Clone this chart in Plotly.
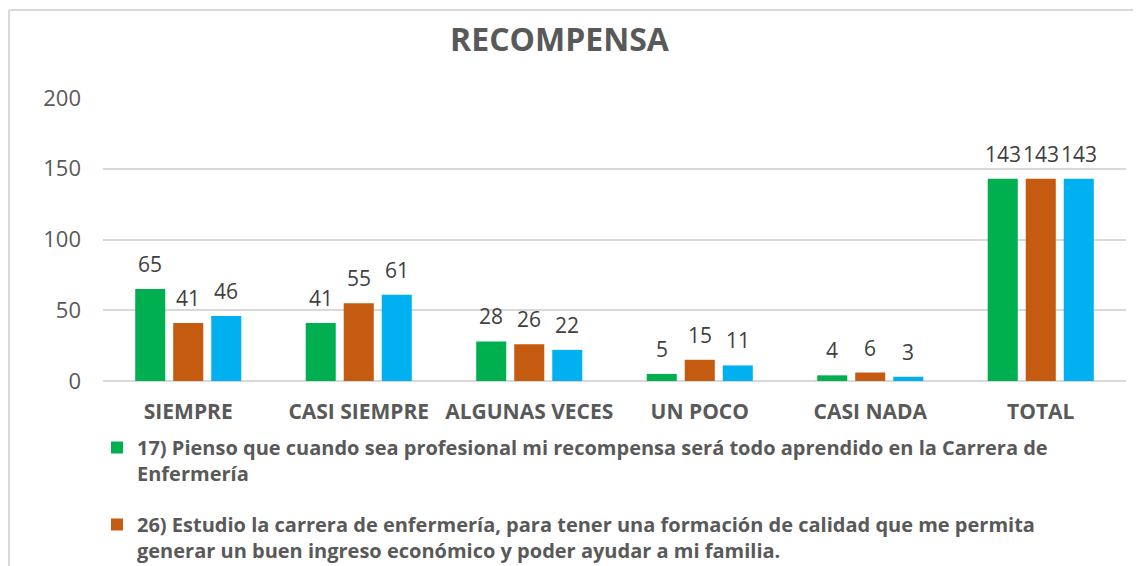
import plotly.graph_objects as go

categories = ["SIEMPRE", "CASI SIEMPRE", "ALGUNAS VECES", "UN POCO", "CASI NADA", "TOTAL"]
serie_17 = [65, 41, 28, 5, 4, 143]
serie_26 = [41, 55, 26, 15, 6, 143]
serie_3 = [46, 61, 22, 11, 3, 143]

names = [
    "<b>17) Pienso que cuando sea profesional mi recompensa será todo aprendido en la Carrera de<br>Enfermería</b>",
    "<b>26) Estudio la carrera de enfermería, para tener una formación de calidad que me permita<br>generar un buen ingreso económico y poder ayudar a mi familia.</b>",
    "Serie 3",
]
colors = ["#00B050", "#C55A11", "#00B0F0"]
series = [serie_17, serie_26, serie_3]

FONT = "Open Sans, Liberation Sans, sans-serif"

# page body has an 8px margin; figure coordinates = window coordinates - 8
W, H = 1141, 566
ml, mt = 95, 90
pw, ph = 1023, 283
mr = W - ml - pw
mb = H - mt - ph
BARGAP, GROUPGAP = 0.331, 0.21
slot = pw / len(categories) * (1 - BARGAP) / len(series)

def px_x(x):
    return (x - ml) / pw

def px_y(y):
    return (mt + ph - y) / ph

fig = go.Figure()
for i, (nm, vals, col) in enumerate(zip(names, series, colors)):
    fig.add_trace(go.Bar(
        x=categories, y=vals, name=nm,
        marker=dict(color=col, line=dict(width=0)),
        legendgroup=f"g{i}", showlegend=(i < 2),
        hovertemplate="%{x}: %{y}<extra></extra>",
    ))
    # data labels
    for cat, v in zip(categories, vals):
        fig.add_annotation(
            x=cat, y=v, xref="x", yref="y", text=str(v), showarrow=False,
            xshift=(i - 1) * slot, yshift=9, yanchor="bottom",
            font=dict(family=FONT, size=21, color="#404040"),
        )

fig.update_layout(
    width=W, height=H,
    margin=dict(l=ml, r=mr, t=mt, b=mb, autoexpand=False),
    paper_bgcolor="white", plot_bgcolor="white",
    barmode="group", bargap=BARGAP, bargroupgap=GROUPGAP,
    title=dict(text="<b>RECOMPENSA</b>", xref="container", x=551.5 / W, xanchor="center",
               y=1 - 32 / H, yanchor="middle",
               font=dict(family=FONT, size=32, color="#595959")),
    font=dict(family=FONT, color="#595959"),
    legend=dict(
        orientation="v", x=px_x(89), xanchor="left",
        y=px_y(420), yanchor="top", valign="top",
        traceorder="grouped", tracegroupgap=22,
        font=dict(family=FONT, size=20, color="#595959"),
        bgcolor="rgba(0,0,0,0)", itemclick=False,
    ),
    xaxis=dict(
        showgrid=False, showline=False, ticks="",
        tickfont=dict(family=FONT, size=21, color="#595959"),
        tickprefix="<b>", ticksuffix="</b>",
        ticklabelstandoff=16,
    ),
    yaxis=dict(
        range=[0, 200], dtick=50, showgrid=True, gridcolor="#D9D9D9", gridwidth=1.5,
        zeroline=True, zerolinecolor="#D9D9D9", zerolinewidth=1.5,
        showline=False, ticks="",
        tickfont=dict(family=FONT, size=22, color="#595959"),
        ticklabelstandoff=21,
    ),
    showlegend=True,
)

# chart-area border (left and top edges visible in the reference)
fig.add_shape(type="line", xref="paper", yref="paper",
              x0=px_x(1), x1=px_x(1), y0=px_y(2), y1=px_y(H + 5),
              line=dict(color="#D9D9D9", width=2))
fig.add_shape(type="line", xref="paper", yref="paper",
              x0=px_x(1), x1=px_x(W + 5), y0=px_y(2), y1=px_y(2),
              line=dict(color="#D9D9D9", width=2))

fig.write_html("out.html")
